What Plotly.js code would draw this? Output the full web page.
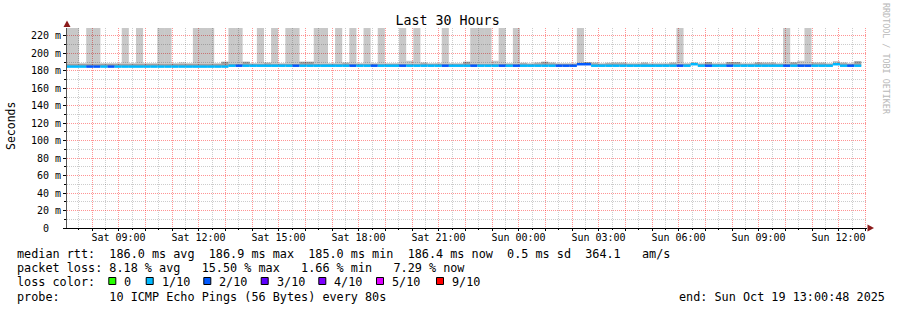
<!DOCTYPE html>
<html>
<head>
<meta charset="utf-8">
<script src="https://cdn.plot.ly/plotly-3.0.1.min.js"></script>
<style>
  html, body { margin: 0; padding: 0; background: #ffffff; }
  #chart { width: 897px; height: 310px; }
  #chart .gridlayer path { shape-rendering: crispEdges; }
</style>
</head>
<body>
<div id="chart"></div>
<script>
// ---------------- DATA ----------------
// 16-minute consolidation bins; first bin starts Sat 2025-10-18 06:56 (clipped by the graph start)
const firstBinStart = '2025-10-18T06:56:00Z';
const binMinutes = 16;

// median round-trip time per bin (ms)
const medianRtt = [
  184.8,184.8,184.8,184.8,184.8,184.8,184.8,184.8,184.8,184.8,
  184.8,184.8,184.8,184.8,184.8,184.8,184.8,184.8,184.8,184.8,
  184.8,184.8,184.8,185.8,185.8,185.8,185.8,185.8,185.8,185.8,
  185.8,185.8,185.8,185.8,185.8,185.8,185.8,185.8,185.8,185.8,
  185.8,185.8,185.8,185.8,185.8,185.8,185.8,185.8,185.8,185.8,
  185.8,185.8,185.8,185.8,185.8,185.8,185.8,185.8,185.8,185.8,
  185.8,185.8,185.8,185.8,185.8,185.8,185.8,185.8,185.8,185.8,
  185.8,185.8,187.5,187.5,185.8,185.8,185.8,185.8,185.8,185.8,
  185.8,185.8,185.8,185.8,185.8,185.8,185.8,185.8,187.5,185.8,
  185.8,185.8,185.8,185.8,185.8,185.8,185.8,185.8,185.8,185.8,
  185.8,185.8,185.8,185.8,185.8,185.8,185.8,185.8,187.5,185.8,
  185.8,185.8
];

// lost pings (out of 10) per bin
const lostPings = [
  1,1,1,2,2,1,2,1,1,1,
  1,1,1,1,1,1,1,1,1,1,
  1,1,1,1,2,1,1,1,1,1,
  1,1,2,1,1,1,1,1,1,1,
  2,1,1,2,1,1,1,2,1,1,
  1,1,1,2,1,1,1,2,1,1,
  1,2,1,2,1,1,1,1,1,2,
  2,2,2,2,1,1,1,1,1,1,
  1,1,1,1,1,1,2,1,1,1,
  2,1,1,2,1,1,1,1,1,1,
  1,2,1,2,2,1,1,1,1,1,
  2,1
];

// upper edge of the light smoke (highest ping, ms; 230 = beyond the top of the graph)
const smokeMax = [
  230,230,188.8,230,230,188.8,188.8,188.8,230,188.8,
  230,188.8,188.8,230,230,188.8,189.7,188.8,230,230,
  230,188.8,190.4,230,230,190.4,188.8,230,189.7,230,
  188.8,230,230,190.4,190.4,230,230,188.8,230,189.7,
  230,188.8,230,188.8,230,188.8,188.8,230,191.5,230,
  189.7,188.8,189,230,188.8,188.8,190.4,230,230,230,
  191.5,230,188.8,230,189.3,188.8,189.7,190.4,189.7,188.8,
  188.8,188.8,230,190,189.7,188.8,189.3,189.7,189.7,188.8,
  188.8,189.7,188.8,188.8,188.8,189.7,230,188.8,189.7,188.8,
  190,188.8,188.8,190,190,188.8,188.8,190,189.7,189.7,
  188.8,230,189.7,191.5,230,189.7,189.7,188.8,191.2,189.7,
  188.8,191
];

// upper edge of the dark smoke band (ms)
const smokeMid = [
  187.8,187.8,187.8,187.8,187.8,187.8,187.8,187.8,187.8,187.8,
  187.8,187.8,187.8,187.8,187.8,187.8,187.8,187.8,187.8,187.8,
  187.8,187.8,190.4,187.8,187.8,190.4,187.8,187.8,188.5,187.8,
  187.8,187.8,187.8,190.4,190.4,187.8,187.8,187.8,187.8,188.5,
  187.8,187.8,187.8,187.8,187.8,187.8,187.8,187.8,187.8,187.8,
  188.5,187.8,187.8,187.8,187.8,187.8,190.4,187.8,187.8,187.8,
  187.8,187.8,187.8,187.8,188.5,187.8,188.5,190.4,188.5,187.8,
  187.8,187.8,189,190,188.5,187.8,188.5,188.5,188.5,187.8,
  187.8,188.5,187.8,187.8,187.8,188.5,187.8,187.8,189,187.8,
  190,187.8,187.8,190,190,187.8,187.8,189,188.5,188.5,
  187.8,187.8,189.7,187.8,187.8,188.5,188.5,187.8,189,188.5,
  187.8,191
];

// loss colour legend
const lossLabels = ['0', '1/10', '2/10', '3/10', '4/10', '5/10', '9/10'];
const lossLevels = [0, 1, 2, 3, 4, 5, 9];
const lossColors = ['#26ff00', '#00b8ff', '#0059ff', '#5e00ff', '#7e00ff', '#dd00ff', '#ff0000'];

// y axis ticks (major every 20 ms, minor grid in between)
const yTickVals = [0, 20, 40, 60, 80, 100, 120, 140, 160, 180, 200, 220];
const yTickText = ['0\u00a0\u00a0', '20 m', '40 m', '60 m', '80 m', '100 m', '120 m', '140 m', '160 m', '180 m', '200 m', '220 m'];
const yMinorVals = [10, 30, 50, 70, 90, 110, 130, 150, 170, 190, 210];

// x axis: hourly grid, labelled every 3 hours, half-hour minor grid
const rangeStart = '2025-10-18T07:00:48Z';
const rangeEnd = '2025-10-19T13:00:48Z';
const firstGridHour = '2025-10-18T08:00:00Z';
const firstMinorGrid = '2025-10-18T07:30:00Z';
const dayNames = ['Sun', 'Mon', 'Tue', 'Wed', 'Thu', 'Fri', 'Sat'];

// text blocks
const titleText = 'Last 30 Hours';
const yTitle = 'Seconds';
const legendMedian = 'median rtt:  186.0 ms avg  186.9 ms max  185.0 ms min  186.4 ms now  0.5 ms sd  364.1   am/s';
const legendLoss = 'packet loss: 8.18 % avg   15.50 % max   1.66 % min   7.29 % now';
const legendLossColor = 'loss color:';
const legendProbe = 'probe:       10 ICMP Echo Pings (56 Bytes) every 80s';
const legendEnd = 'end: Sun Oct 19 13:00:48 2025';
const watermark = 'RRDTOOL / TOBI OETIKER';

// ---------------- BUILD ----------------
const MONO = 'DejaVu Sans Mono, monospace';
const binMs = binMinutes * 60000;
const t0 = Date.parse(firstBinStart);
const xCenters = medianRtt.map((_, i) => t0 + (i + 0.5) * binMs);

const majorGrid = 'rgba(255,0,0,0.42)';
const minorGrid = 'rgba(0,0,0,0.2)';

// plot area in pixels
const PL = 67, PW = 800, PB = 228, PH = 200;
const tStart = Date.parse(rangeStart), tSpan = Date.parse(rangeEnd) - tStart;
// snap a grid time onto a pixel column (as the raster renderer of the original does)
const snap = t => {
  const col = Math.floor(PL + (t - tStart) / tSpan * PW) - 1;
  return tStart + (col + 0.5 - PL) / PW * tSpan;
};

// hourly tick positions, label every 3rd hour
const xTickVals = [], xTickText = [], xMinorVals = [];
for (let t = Date.parse(firstGridHour); t <= Date.parse(rangeEnd); t += 3600000) {
  const d = new Date(t);
  xTickVals.push(snap(t));
  const h = d.getUTCHours();
  xTickText.push(h % 3 === 0 ? dayNames[d.getUTCDay()] + ' ' + String(h).padStart(2, '0') + ':00' : '');
}
for (let t = Date.parse(firstMinorGrid); t <= Date.parse(rangeEnd); t += 3600000) xMinorVals.push(snap(t));

const lineThick = 2.8;
const colorOf = l => lossColors[lossLevels.indexOf(l)];

const traces = [
  { type: 'bar', x: xCenters, base: medianRtt, y: smokeMax.map((v, i) => v - medianRtt[i]),
    width: binMs, marker: { color: 'rgba(0,0,0,0.216)', line: { width: 0 } }, hoverinfo: 'skip' },
  { type: 'bar', x: xCenters, base: medianRtt, y: smokeMid.map((v, i) => v - medianRtt[i]),
    width: binMs, marker: { color: 'rgba(0,0,0,0.2)', line: { width: 0 } }, hoverinfo: 'skip' },
  { type: 'bar', x: xCenters, base: medianRtt.map(v => v - lineThick / 2), y: medianRtt.map(() => lineThick),
    width: binMs, marker: { color: lostPings.map(colorOf), line: { width: 0 } }, hoverinfo: 'skip' }
];

// layout helpers: pixel -> paper
const px = v => (v - PL) / PW;
const py = v => (PB - v) / PH;
const nb = s => s.replace(/ /g, '\u00a0');

const annotations = [];
const txt = (text, x, y, extra) => annotations.push(Object.assign({
  text: nb(text), x: px(x), y: py(y), xref: 'paper', yref: 'paper',
  xanchor: 'left', yanchor: 'middle', showarrow: false,
  font: { family: MONO, size: 11.8, color: '#000000' }
}, extra || {}));

txt(legendMedian, 15, 254);
txt(legendLoss, 15, 268);
txt(legendLossColor, 15, 282);
txt(legendProbe, 15, 296.5);
txt(legendEnd, 677, 296.5);
txt(yTitle, 11, 126, { xanchor: 'center', textangle: -90, font: { family: MONO, size: 11.5, color: '#000000' } });
txt(watermark, 886, 59, { xanchor: 'center', textangle: 90, font: { family: MONO, size: 8.4, color: '#b8b8b8' } });

const shapes = [];
const squareX = [108.3, 145.7, 203.3, 260.7, 318.3, 376, 436];
lossLabels.forEach((lab, i) => {
  shapes.push({ type: 'rect', xref: 'paper', yref: 'paper',
    x0: px(squareX[i] + 0.5), x1: px(squareX[i] + 7.5), y0: py(284.5), y1: py(277.5),
    fillcolor: lossColors[i], line: { color: '#000000', width: 1 } });
  txt(lab, squareX[i] + 14, 282);
});
// axis arrows
shapes.push({ type: 'path', xref: 'paper', yref: 'paper',
  path: `M ${px(67)} ${py(20.5)} L ${px(63.5)} ${py(27)} L ${px(70.5)} ${py(27)} Z`,
  fillcolor: '#8b1a1a', line: { width: 0 } });
shapes.push({ type: 'path', xref: 'paper', yref: 'paper',
  path: `M ${px(874)} ${py(228)} L ${px(867.5)} ${py(224.5)} L ${px(867.5)} ${py(231.5)} Z`,
  fillcolor: '#8b1a1a', line: { width: 0 } });

const layout = {
  width: 897, height: 310,
  margin: { l: 67, r: 30, t: 28, b: 82, pad: 0 },
  paper_bgcolor: '#ffffff', plot_bgcolor: '#ffffff',
  showlegend: false,
  barmode: 'overlay',
  font: { family: MONO, size: 10, color: '#000000' },
  title: { text: titleText, font: { family: MONO, size: 13.3, color: '#000000' },
           x: 0.499, xref: 'container', xanchor: 'center', y: 1 - 20 / 310, yref: 'container', yanchor: 'middle' },
  xaxis: {
    type: 'date', range: [rangeStart, rangeEnd], automargin: false,
    tickmode: 'array', tickvals: xTickVals, ticktext: xTickText,
    ticks: 'outside', ticklen: 2, tickcolor: '#000000', ticklabelstandoff: -2,
    showgrid: true, gridcolor: majorGrid, griddash: '1px,1px', gridwidth: 1,
    minor: { tickmode: 'array', tickvals: xMinorVals, showgrid: true, gridcolor: minorGrid, griddash: '1px,1px', ticks: 'outside', ticklen: 1, tickcolor: '#000000' },
    showline: true, linecolor: '#000000', linewidth: 1, zeroline: false,
    tickfont: { family: MONO, size: 10, color: '#000000' }, fixedrange: true
  },
  yaxis: {
    range: [0, 229], automargin: false,
    tickmode: 'array', tickvals: yTickVals, ticktext: yTickText,
    ticks: 'outside', ticklen: 3, tickcolor: '#000000',
    showgrid: true, gridcolor: majorGrid, griddash: '1px,1px', gridwidth: 1,
    minor: { tickmode: 'array', tickvals: yMinorVals, showgrid: true, gridcolor: minorGrid, griddash: '1px,1px', ticks: 'outside', ticklen: 2, tickcolor: '#000000' },
    showline: true, linecolor: '#555555', linewidth: 1, zeroline: false,
    tickfont: { family: MONO, size: 10, color: '#000000' }, fixedrange: true
  },
  annotations: annotations,
  shapes: shapes
};

Plotly.newPlot('chart', traces, layout, { displayModeBar: false, staticPlot: true });
</script>
</body>
</html>
